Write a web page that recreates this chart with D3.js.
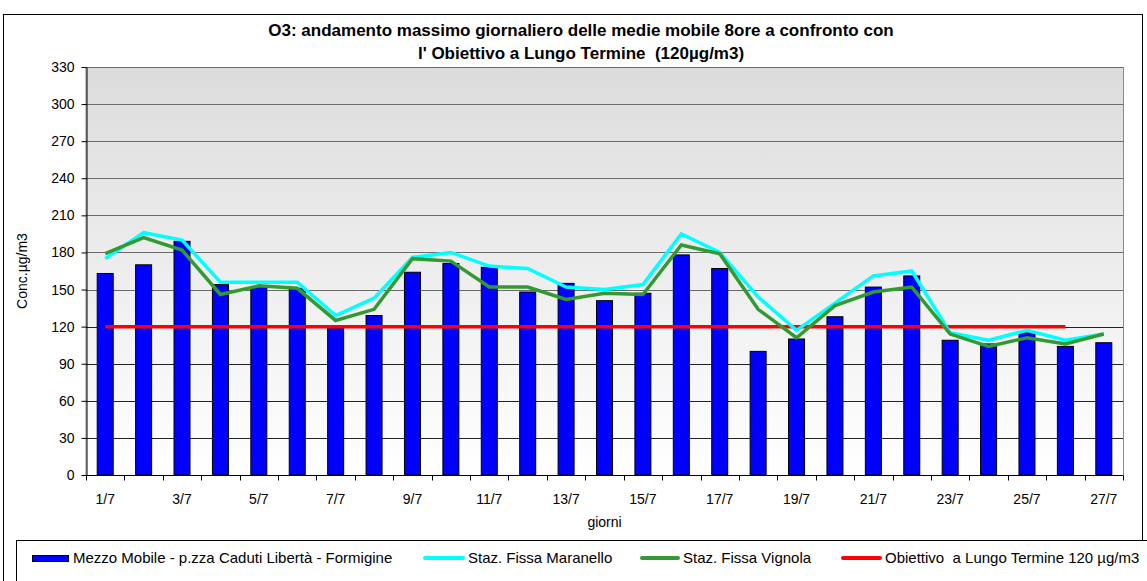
<!DOCTYPE html>
<html>
<head>
<meta charset="utf-8">
<script src="https://cdn.jsdelivr.net/npm/d3@7"></script>
<style>
  body { margin: 0; background: #fff; }
  svg { font-family: "Liberation Sans", Arial, sans-serif; }
  text { white-space: pre; }
</style>
</head>
<body>
<svg id="chart" width="1147" height="581"></svg>
<script>
var days = d3.range(1, 28).map(d => d + "/7");
var formigine = [163, 170, 189, 154, 152, 151, 119, 129, 164, 171, 168, 148, 155, 141, 147, 178, 167, 100, 110, 128, 152, 161, 109, 106, 115, 104, 107];
var maranello = [175, 196, 190, 156, 156, 156, 129, 143, 176, 180, 169, 167, 152, 150, 154, 195, 180, 144, 117, 139, 161, 165, 115, 109, 117, 109, 114];
var vignola = [179, 192, 182, 146, 153, 151, 125, 134, 175, 173, 152, 152, 142, 147, 146, 186, 179, 134, 111, 137, 148, 152, 114, 104, 111, 106, 114];
var obiettivo = [120, 120, 120, 120, 120, 120, 120, 120, 120, 120, 120, 120, 120, 120, 120, 120, 120, 120, 120, 120, 120, 120, 120, 120, 120, 120];
var yTicks = d3.range(0, 331, 30);
var titleLines = ["O3: andamento massimo giornaliero delle medie mobile 8ore a confronto con", "l' Obiettivo a Lungo Termine  (120µg/m3)"];

var svg = d3.select("#chart");
var pl = 86, pr = 1123, pt = 67, pb = 475;

// cornice esterna
svg.append("rect").attr("x", 3.5).attr("y", 14.5).attr("width", 1139).attr("height", 600)
    .attr("fill", "#fff").attr("stroke", "#000");

var defs = svg.append("defs");
var grad = defs.append("linearGradient").attr("id", "bg").attr("x1", 0).attr("y1", 0).attr("x2", 0).attr("y2", 1);
grad.append("stop").attr("offset", "0%").attr("stop-color", "#dcdcdc");
grad.append("stop").attr("offset", "100%").attr("stop-color", "#ffffff");

var x = d3.scaleBand().domain(days).range([pl, pr]);
var y = d3.scaleLinear().domain([0, 330]).range([pb, pt]);

svg.append("rect").attr("x", pl).attr("y", pt + 0.5).attr("width", pr - pl + 0.5).attr("height", pb - pt)
    .attr("fill", "url(#bg)").attr("stroke", "#8a8a8a");

// griglia
svg.append("g").selectAll("line").data(yTicks.filter(d => d > 0)).enter().append("line")
    .attr("x1", pl).attr("x2", pr)
    .attr("y1", d => Math.round(y(d)) + 0.5).attr("y2", d => Math.round(y(d)) + 0.5)
    .attr("stroke", d => d >= 150 ? "#6a6a6a" : "#222");

// asse y
var yAxis = svg.append("g").attr("transform", "translate(" + (pl + 0.5) + ",0)")
    .call(d3.axisLeft(y).tickValues(yTicks).tickSize(5).tickSizeOuter(0).tickPadding(7));
yAxis.selectAll("text").attr("font-size", 14).attr("fill", "#000").attr("font-family", "Liberation Sans, Arial");
yAxis.selectAll("line, path").attr("stroke", "#000");

// asse x
var bw = x.bandwidth();
var xg = svg.append("g").attr("transform", "translate(0," + (pb + 0.5) + ")");
xg.append("line").attr("x1", pl).attr("x2", pr).attr("stroke", "#000");
xg.selectAll(".tk").data(d3.range(0, days.length + 1)).enter().append("line")
    .attr("x1", i => Math.round(pl + i * bw) + 0.5).attr("x2", i => Math.round(pl + i * bw) + 0.5)
    .attr("y1", 0).attr("y2", 5).attr("stroke", "#000");
xg.selectAll("text").data(days.filter((d, i) => i % 2 === 0)).enter().append("text")
    .attr("x", d => x(d) + bw / 2).attr("y", 28)
    .attr("text-anchor", "middle").attr("font-size", 14).text(d => d);

// barre
var barW = 16;
svg.append("g").selectAll("rect").data(formigine).enter().append("rect")
    .attr("x", (d, i) => x(days[i]) + bw / 2 - barW / 2)
    .attr("y", d => y(d))
    .attr("width", barW)
    .attr("height", d => pb - y(d))
    .attr("fill", "#0000ff").attr("stroke", "#000").attr("stroke-width", 1);

var line = d3.line().x((d, i) => x(days[i]) + bw / 2).y(d => y(d));

svg.append("path").datum(obiettivo).attr("d", line)
    .attr("fill", "none").attr("stroke", "#ff0000").attr("stroke-width", 3.5);
svg.append("path").datum(maranello).attr("d", line)
    .attr("fill", "none").attr("stroke", "#00ffff").attr("stroke-width", 3.5);
svg.append("path").datum(vignola).attr("d", line)
    .attr("fill", "none").attr("stroke", "#339933").attr("stroke-width", 3.5);

// titoli
svg.selectAll(".title").data(titleLines).enter().append("text")
    .attr("x", 581).attr("y", (d, i) => 36 + i * 23)
    .attr("text-anchor", "middle").attr("font-size", 17).attr("font-weight", "bold").text(d => d);

svg.append("text").attr("transform", "translate(27," + ((pt + pb) / 2) + ") rotate(-90)")
    .attr("text-anchor", "middle").attr("font-size", 14).text("Conc.µg/m3");
svg.append("text").attr("x", (pl + pr) / 2).attr("y", 527)
    .attr("text-anchor", "middle").attr("font-size", 14).text("giorni");

// legenda
svg.append("rect").attr("x", 16.5).attr("y", 540.5).attr("width", 1150).attr("height", 60)
    .attr("fill", "#fff").attr("stroke", "#000");
var legend = [
  { name: "Mezzo Mobile - p.zza Caduti Libertà - Formigine", type: "bar", color: "#0000ff", x: 32, w: 36 },
  { name: "Staz. Fissa Maranello", type: "line", color: "#00ffff", x: 425, w: 38 },
  { name: "Staz. Fissa Vignola", type: "line", color: "#339933", x: 642, w: 36 },
  { name: "Obiettivo  a Lungo Termine 120 µg/m3", type: "line", color: "#ff0000", x: 843, w: 37 }
];
var lg = svg.append("g").selectAll("g").data(legend).enter().append("g");
lg.filter(d => d.type === "bar").append("rect")
    .attr("x", d => d.x + 0.5).attr("y", 555.5).attr("width", d => d.w).attr("height", 6)
    .attr("fill", d => d.color).attr("stroke", "#000");
lg.filter(d => d.type === "line").append("line")
    .attr("x1", d => d.x).attr("x2", d => d.x + d.w).attr("y1", 558).attr("y2", 558)
    .attr("stroke", d => d.color).attr("stroke-width", 4).attr("stroke-linecap", "round");
lg.append("text").attr("x", d => d.x + d.w + 5).attr("y", 563)
    .attr("font-size", 15).text(d => d.name);
</script>
</body>
</html>
